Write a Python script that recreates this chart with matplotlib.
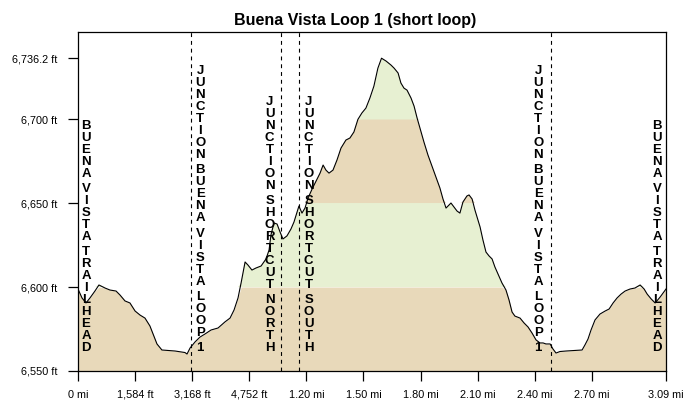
import matplotlib
matplotlib.use("Agg")
import matplotlib.pyplot as plt
import numpy as np

plt.rcParams['font.family'] = ['Liberation Sans', 'DejaVu Sans']

# elevation profile (distance in miles, elevation in feet)
dist_mi = [0.000, 0.021, 0.042, 0.063, 0.089, 0.110, 0.142, 0.168, 0.200, 0.221,
           0.247, 0.273, 0.300, 0.326, 0.352, 0.378, 0.399, 0.415, 0.441, 0.510,
           0.562, 0.573, 0.589, 0.615, 0.641, 0.667, 0.699, 0.736, 0.772, 0.799,
           0.820, 0.841, 0.857, 0.878, 0.893, 0.914, 0.935, 0.962, 0.988, 1.004,
           1.014, 1.030, 1.046, 1.062, 1.077, 1.098, 1.119, 1.135, 1.161, 1.177,
           1.193, 1.209, 1.230, 1.251, 1.272, 1.288, 1.303, 1.319, 1.340, 1.361,
           1.382, 1.408, 1.429, 1.450, 1.471, 1.492, 1.513, 1.534, 1.555, 1.576,
           1.595, 1.619, 1.645, 1.661, 1.682, 1.697, 1.713, 1.729, 1.750, 1.766,
           1.782, 1.797, 1.818, 1.839, 1.860, 1.881, 1.902, 1.918, 1.934, 1.960,
           1.976, 1.992, 2.007, 2.023, 2.044, 2.055, 2.071, 2.086, 2.102, 2.113,
           2.128, 2.144, 2.160, 2.176, 2.191, 2.212, 2.228, 2.249, 2.265, 2.281,
           2.296, 2.323, 2.344, 2.365, 2.386, 2.407, 2.428, 2.444, 2.459, 2.481,
           2.496, 2.512, 2.533, 2.565, 2.612, 2.649, 2.664, 2.680, 2.696, 2.717,
           2.743, 2.770, 2.791, 2.812, 2.833, 2.854, 2.875, 2.901, 2.927, 2.954,
           2.975, 2.991, 3.012, 3.033, 3.059, 3.090]
elev_ft = [6598.8, 6593.5, 6590.5, 6593.5, 6597.6, 6601.2, 6599.4, 6598.2, 6597.6, 6595.2,
           6591.7, 6590.5, 6585.7, 6583.3, 6581.5, 6576.8, 6570.8, 6566.1, 6562.5, 6561.9,
           6561.0, 6560.1, 6563.7, 6567.3, 6570.2, 6572.0, 6574.4, 6575.6, 6579.2, 6581.5,
           6586.3, 6593.5, 6602.4, 6614.9, 6613.1, 6610.1, 6611.3, 6612.5, 6616.7, 6622.0,
           6631.0, 6638.1, 6637.5, 6632.7, 6628.6, 6630.4, 6634.5, 6638.7, 6648.2, 6644.0,
           6647.0, 6653.0, 6658.3, 6663.1, 6667.8, 6672.6, 6669.6, 6667.8, 6669.6, 6675.6,
           6682.7, 6687.5, 6688.7, 6692.3, 6699.8, 6703.6, 6706.5, 6712.5, 6719.6, 6730.3,
           6736.2, 6734.5, 6732.1, 6730.3, 6727.4, 6721.4, 6718.4, 6717.2, 6712.5, 6707.7,
           6700.6, 6694.6, 6686.3, 6678.6, 6672.0, 6665.5, 6658.9, 6652.4, 6647.0, 6650.0,
           6647.6, 6645.2, 6644.0, 6650.6, 6654.2, 6654.8, 6652.4, 6645.8, 6639.9, 6635.7,
           6628.0, 6620.8, 6618.5, 6616.7, 6611.9, 6606.5, 6602.4, 6598.2, 6592.3, 6585.1,
           6582.7, 6581.5, 6578.6, 6576.2, 6572.6, 6568.5, 6566.7, 6566.7, 6566.1, 6566.1,
           6563.1, 6560.7, 6561.6, 6561.9, 6562.2, 6562.5, 6565.5, 6569.0, 6574.4, 6580.4,
           6583.9, 6585.7, 6586.9, 6590.5, 6593.5, 6595.8, 6597.6, 6598.8, 6599.4, 6601.2,
           6598.8, 6595.8, 6592.9, 6590.5, 6594.0, 6598.8]

# waypoints
waypoint_mi = [0.0, 0.595, 1.065, 1.16, 2.487, 3.09]
waypoint_names = ["BUENA VISTA TRAILHEAD", "JUNCTION BUENA VISTA LOOP 1",
                  "JUNCTION SHORTCUT NORTH", "JUNCTION SHORTCUT SOUTH",
                  "JUNCTION BUENA VISTA LOOP 1", "BUENA VISTA TRAILHEAD"]
label_dx_px = [8, 9, -11, 10, -13, -9]

# axes ticks
xtick_mi = [0.0, 0.3, 0.6, 0.9, 1.2, 1.5, 1.8, 2.1, 2.4, 2.7, 3.09]
xtick_labels = ["0 mi", "1,584 ft", "3,168 ft", "4,752 ft", "1.20 mi", "1.50 mi",
                "1.80 mi", "2.10 mi", "2.40 mi", "2.70 mi", "3.09 mi"]
ytick_ft = [6550, 6600, 6650, 6700, 6736.2]
ytick_labels = ["6,550 ft", "6,600 ft", "6,650 ft", "6,700 ft", "6,736.2 ft"]

band_edges = [6550, 6600, 6650, 6700, 6760]
band_colors = ["#E8D9BA", "#E7F0D2", "#E8D9BA", "#E7F0D2"]

ymin, ymax = 6550, 6751.8

fig = plt.figure(figsize=(6.92, 4.05), dpi=100)
ax = fig.add_axes([78/692, 34/405, 588/692, 339/405])

x = np.array(dist_mi)
y = np.array(elev_ft)
for lo, hi, c in zip(band_edges[:-1], band_edges[1:], band_colors):
    ax.fill_between(x, lo, np.clip(y, lo, hi), where=y > lo, interpolate=True,
                    color=c, linewidth=0, zorder=1)
ax.plot(x, y, color="black", lw=0.8, zorder=3)

# waypoint markers and stacked labels
step_pt = 12 * 0.72
space_pt = 3.2 * 0.72
base_y = 6563.7
for wx, name, dx in zip(waypoint_mi, waypoint_names, label_dx_px):
    if 0 < wx < dist_mi[-1]:
        ax.axvline(wx, color="black", lw=0.8, linestyle=(0, (3.5, 3.5)), zorder=4)
    off = 0.0
    for ch in reversed(name):
        if ch == " ":
            off += space_pt
            continue
        ax.annotate(ch, (wx, base_y), xytext=(dx * 0.72, off), textcoords="offset points",
                    ha="center", va="center", fontsize=9.5, fontweight="bold", zorder=5)
        off += step_pt

ax.set_xlim(0, dist_mi[-1])
ax.set_ylim(ymin, ymax)
ax.set_xticks(xtick_mi)
ax.set_xticklabels(xtick_labels)
ax.set_yticks(ytick_ft)
ax.set_yticklabels(ytick_labels)
ax.tick_params(axis='both', direction='out', length=7.5, width=0.9, labelsize=7.8)
ax.tick_params(axis='x', pad=6)
ax.tick_params(axis='y', pad=7.5)
for s in ax.spines.values():
    s.set_linewidth(0.9)

fig.text(355/692, 1 - 20/405, "Buena Vista Loop 1 (short loop)", ha="center", va="center",
         fontsize=11.5, fontweight="bold")

fig.savefig("out.png", dpi=100)
